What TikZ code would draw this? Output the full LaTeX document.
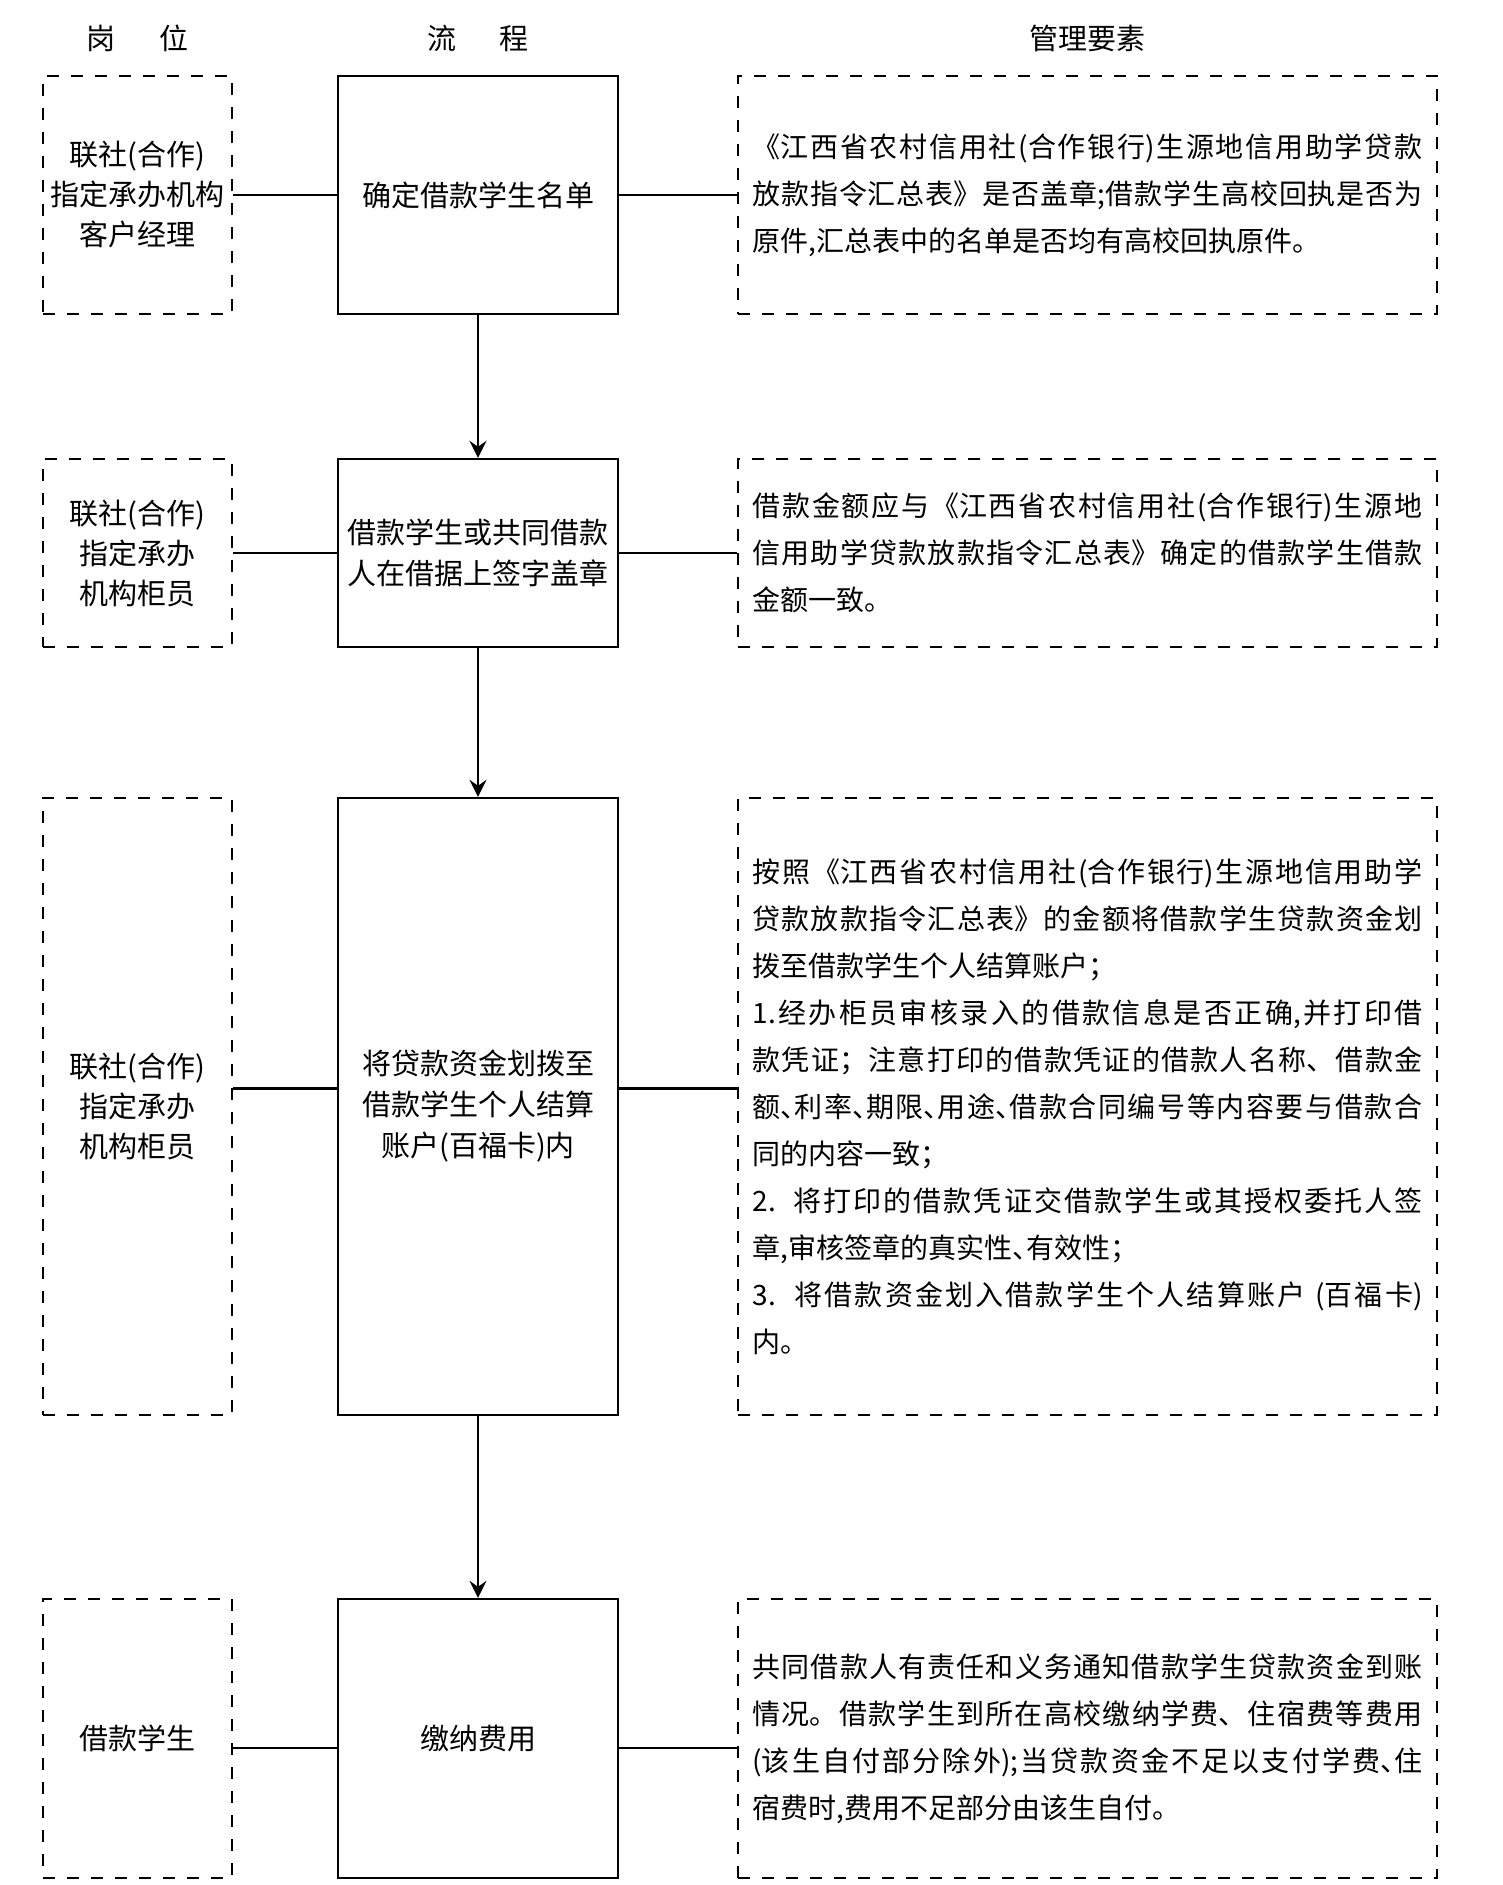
\documentclass[tikz,border=0pt]{standalone}
\usepackage{fontspec}
\setmainfont{Noto Sans CJK SC}
\usetikzlibrary{arrows.meta}
\XeTeXlinebreaklocale "zh"
\XeTeXlinebreakskip=0pt plus 1pt
\setlength{\parindent}{0pt}
% virgule d'enumeration en demi-chasse
\newcommand{\hdun}{\makebox[0.5em][l]{、}}

\begin{document}
\begin{tikzpicture}[x=0.5pt, y=-0.5pt,
  gw/.style={draw, line width=1.1pt, dash pattern=on 6pt off 6pt, minimum width=94.5pt, align=center, font=\fontsize{14.5}{20}\selectfont},
  lc/.style={draw, line width=1.2pt, minimum width=140pt, align=center, font=\fontsize{14.5}{20.5}\selectfont},
  yq/.style={draw, line width=1.1pt, dash pattern=on 6pt off 6pt, text width=335pt, inner xsep=7.25pt, align=justify, font=\fontsize{14}{23.5}\selectfont},
  lien/.style={line width=1.1pt},
  fleche/.style={line width=1.1pt, -{Stealth[length=8.5pt, width=8.5pt, inset=3pt]}}]

\useasboundingbox (0,0) rectangle (1503,1885);

% En-tetes
\node[font=\fontsize{14.5}{17}\selectfont] (h1) at (137.5,38.5) {岗\hspace{1.5em}位};
\node[font=\fontsize{14.5}{17}\selectfont] (h2) at (478,38.5) {流\hspace{1.5em}程};
\node[font=\fontsize{14.5}{17}\selectfont] (h3) at (1087.5,38.5) {管理要素};

% Ligne 1
\node[gw, minimum height=119pt] (g1) at (137.5,195) {联社(合作)\\指定承办机构\\客户经理};
\node[lc, minimum height=119pt] (p1) at (478,195) {确定借款学生名单};
\node[yq, minimum height=119pt] (y1) at (1087.5,195) {《江西省农村信用社(合作银行)生源地信用助学贷款\linebreak 放款指令汇总表》是否盖章;借款学生高校回执是否为\linebreak 原件,汇总表中的名单是否均有高校回执原件。};

% Ligne 2
\node[gw, minimum height=94pt] (g2) at (137.5,553) {联社(合作)\\指定承办\\机构柜员};
\node[lc, minimum height=94pt] (p2) at (478,553) {借款学生或共同借款\\人在借据上签字盖章};
\node[yq, minimum height=94pt] (y2) at (1087.5,553) {借款金额应与《江西省农村信用社(合作银行)生源地\linebreak 信用助学贷款放款指令汇总表》确定的借款学生借款\linebreak 金额一致。};

% Ligne 3
\node[gw, minimum height=308.5pt] (g3) at (137.5,1106.5) {联社(合作)\\指定承办\\机构柜员};
\node[lc, minimum height=308.5pt] (p3) at (478,1106.5) {将贷款资金划拨至\\借款学生个人结算\\账户(百福卡)内};
\node[yq, minimum height=308.5pt] (y3) at (1087.5,1106.5) {按照《江西省农村信用社(合作银行)生源地信用助学\linebreak 贷款放款指令汇总表》的金额将借款学生贷款资金划\linebreak 拨至借款学生个人结算账户；\par
1.经办柜员审核录入的借款信息是否正确,并打印借\linebreak 款凭证；注意打印的借款凭证的借款人名称、借款金\linebreak 额\hdun 利率\hdun 期限\hdun 用途\hdun 借款合同编号等内容要与借款合\linebreak 同的内容一致；\par
2. 将打印的借款凭证交借款学生或其授权委托人签\linebreak 章,审核签章的真实性\hdun 有效性；\par
3. 将借款资金划入借款学生个人结算账户 (百福卡)\linebreak 内。};

% Ligne 4
\node[gw, minimum height=139.5pt] (g4) at (137.5,1738.5) {借款学生};
\node[lc, minimum height=139.5pt] (p4) at (478,1738.5) {缴纳费用};
\node[yq, minimum height=139.5pt] (y4) at (1087.5,1738.5) {共同借款人有责任和义务通知借款学生贷款资金到账\linebreak 情况。借款学生到所在高校缴纳学费、住宿费等费用\linebreak (该生自付部分除外);当贷款资金不足以支付学费\hdun 住\linebreak 宿费时,费用不足部分由该生自付。};

% Liaisons horizontales
\draw[lien] (g1) -- (p1);
\draw[lien] (p1) -- (y1);
\draw[lien] (g2) -- (p2);
\draw[lien] (p2) -- (y2);
\draw[lien] ([yshift=9pt]g3.east) -- ([yshift=9pt]p3.west);
\draw[lien] ([yshift=9pt]p3.east) -- ([yshift=9pt]y3.west);
\draw[lien] ([yshift=-4.75pt]g4.east) -- ([yshift=-4.75pt]p4.west);
\draw[lien] ([yshift=-4.75pt]p4.east) -- ([yshift=-4.75pt]y4.west);

% Fleches du flux
\draw[fleche] (p1) -- (p2);
\draw[fleche] (p2) -- (p3);
\draw[fleche] (p3) -- (p4);

\end{tikzpicture}
\end{document}
